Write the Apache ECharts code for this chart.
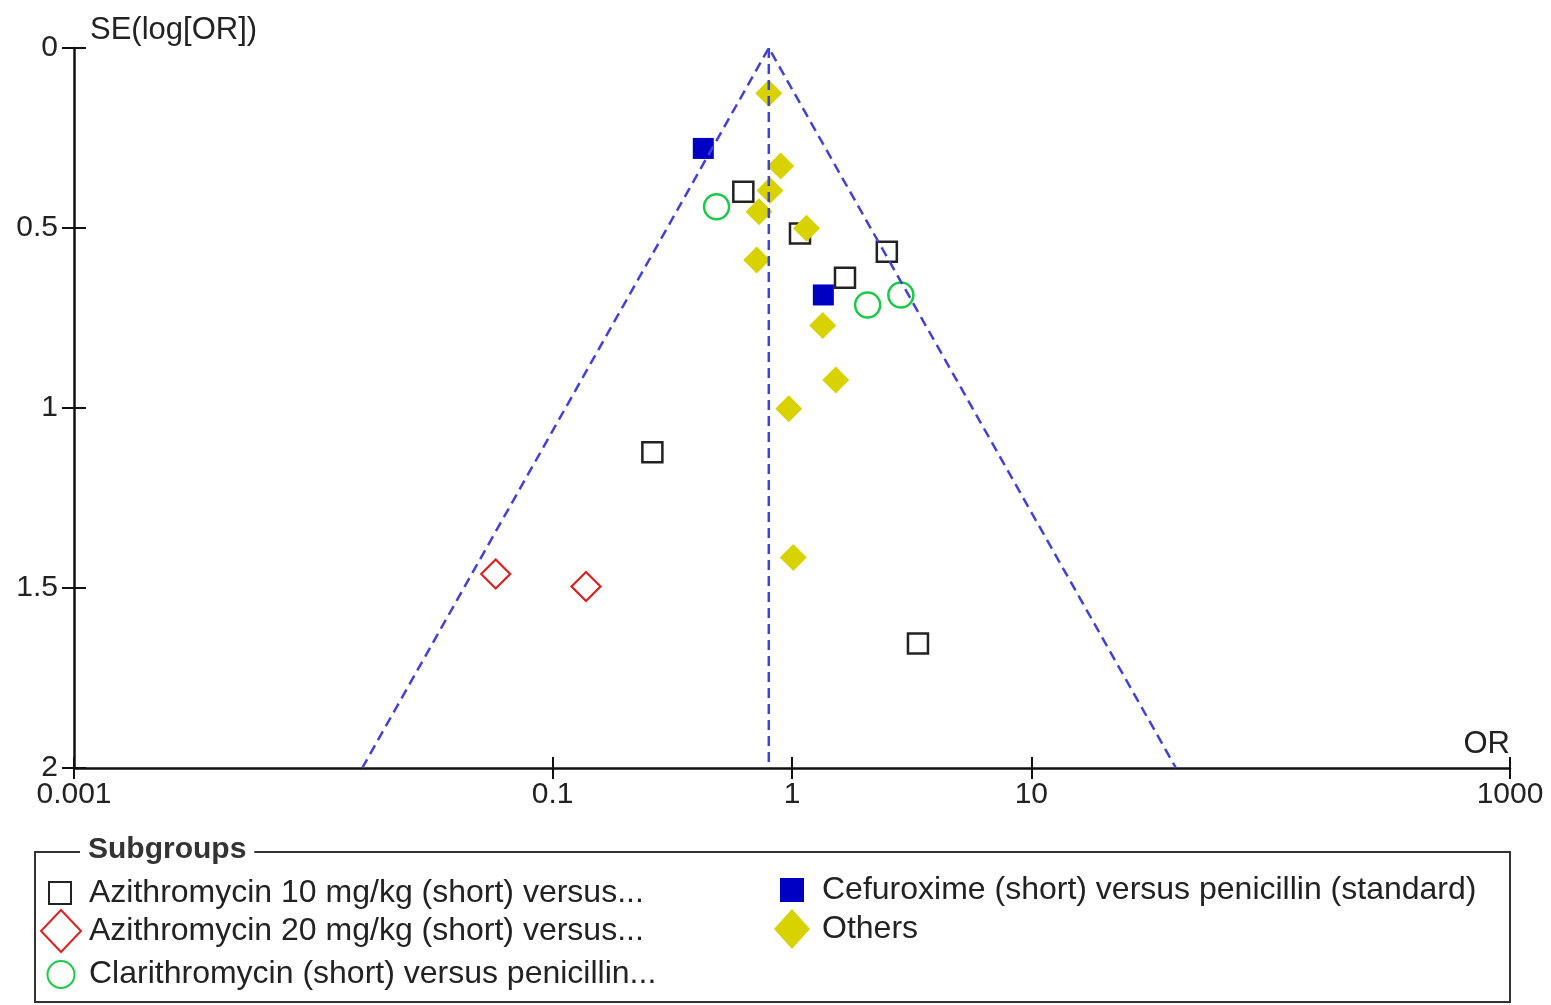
<!DOCTYPE html>
<html>
<head>
<meta charset="utf-8">
<script src="https://cdn.jsdelivr.net/npm/echarts@6/dist/echarts.min.js"></script>
<style>
html,body{margin:0;padding:0;background:#fff;}
#chart{width:1551px;height:1005px;}
</style>
</head>
<body>
<div id="chart"></div>
<script>
// ---- data ----
const xTickValues = [0.001, 0.1, 1, 10, 1000];
const xTickLabels = ['0.001', '0.1', '1', '10', '1000'];
const yTickValues = [0, 0.5, 1, 1.5, 2];
const yTickLabels = ['0', '0.5', '1', '1.5', '2'];

const seriesNames = [
  'Azithromycin 10 mg/kg (short) versus...',
  'Azithromycin 20 mg/kg (short) versus...',
  'Clarithromycin (short) versus penicillin...',
  'Cefuroxime (short) versus penicillin (standard)',
  'Others'
];

const az10OR = [0.626, 1.08, 2.49, 1.665, 0.261, 3.36];
const az10SE = [0.399, 0.515, 0.566, 0.638, 1.123, 1.654];
const az20OR = [0.0578, 0.1378];
const az20SE = [1.461, 1.496];
const clarOR = [0.484, 2.07, 2.85];
const clarSE = [0.441, 0.714, 0.686];
const cefOR = [0.426, 1.352];
const cefSE = [0.279, 0.686];
const othersOR = [0.80, 0.897, 0.809, 0.728, 1.15, 0.712, 1.344, 1.523, 0.969, 1.013];
const othersSE = [0.126, 0.328, 0.396, 0.455, 0.501, 0.589, 0.771, 0.922, 1.002, 1.415];

// funnel (pseudo 95% limits) and pooled estimate
const funnelOR = [0.016, 0.8, 40.2];
const funnelSE = [2, 0, 2];
const pooledOR = [0.8, 0.8];
const pooledSE = [0, 2];

// ---- helpers ----
const lg = v => Math.log10(v);
const pts = (ors, ses) => ors.map((o, i) => [lg(o), ses[i]]);
const FONT = '"Liberation Sans", Arial, sans-serif';
const TXT = '#222';
const xLabelFor = v => {
  const i = xTickValues.findIndex(t => Math.abs(lg(t) - v) < 1e-6);
  return i >= 0 ? xTickLabels[i] : '';
};
const yLabelFor = v => {
  const i = yTickValues.findIndex(t => Math.abs(t - v) < 1e-6);
  return i >= 0 ? yTickLabels[i] : '';
};
const xTicks = xTickValues.map(lg);

// legend layout: one legend component per entry (icon centre, icon size, text start)
const legendLayout = [
  {cx: 59, cy: 888, w: 22, h: 22, tx: 88},
  {cx: 60, cy: 930, w: 40, h: 42, tx: 88},
  {cx: 60, cy: 972, w: 27, h: 27, tx: 88},
  {cx: 792, cy: 886, w: 24, h: 24, tx: 822},
  {cx: 792, cy: 929, w: 36, h: 40, tx: 822}
];
const legends = legendLayout.map((L, i) => ({
  data: [seriesNames[i]],
  orient: 'vertical',
  left: L.cx - L.w / 2, top: L.cy - L.h / 2,
  itemWidth: L.w, itemHeight: L.h, padding: 0,
  selectedMode: false,
  textStyle: {fontSize: 32, color: TXT, fontFamily: FONT, lineHeight: 18,
              padding: [0, 0, 0, Math.max(0, L.tx - (L.cx + L.w / 2) - 5)]}
}));

const chart = echarts.init(document.getElementById('chart'), null, {renderer: 'canvas'});

const option = {
  animation: false,
  backgroundColor: '#ffffff',
  textStyle: {fontFamily: FONT},
  grid: {left: 74, right: 41, top: 48, bottom: 237, containLabel: false},
  xAxis: [
    {
      type: 'value', min: lg(xTickValues[0]), max: lg(xTickValues[xTickValues.length - 1]),
      position: 'bottom',
      name: 'OR', nameLocation: 'end', nameGap: 0,
      nameTextStyle: {fontSize: 31, color: TXT, fontFamily: FONT, align: 'right', verticalAlign: 'bottom', padding: [0, 0, 8, 0]},
      axisLine: {show: true, onZero: false, lineStyle: {color: '#111', width: 2.5}},
      axisTick: {show: true, customValues: xTicks, length: 11, lineStyle: {color: '#111', width: 2}},
      axisLabel: {show: true, customValues: xTicks, formatter: v => xLabelFor(v), fontSize: 30, color: TXT, fontFamily: FONT, margin: 12},
      splitLine: {show: false}
    },
    {
      type: 'value', min: lg(xTickValues[0]), max: lg(xTickValues[xTickValues.length - 1]),
      position: 'bottom',
      axisLine: {show: false, onZero: false},
      axisTick: {show: true, inside: true, customValues: xTicks, length: 11, lineStyle: {color: '#111', width: 2}},
      axisLabel: {show: false},
      splitLine: {show: false}
    }
  ],
  yAxis: [
    {
      type: 'value', inverse: true, position: 'left',
      min: yTickValues[0], max: yTickValues[yTickValues.length - 1], interval: 0.5,
      name: 'SE(log[OR])', nameLocation: 'start', nameGap: 2,
      nameTextStyle: {fontSize: 31, color: TXT, fontFamily: FONT, align: 'left', verticalAlign: 'bottom', padding: [0, 0, 0, 16]},
      axisLine: {show: true, onZero: false, lineStyle: {color: '#111', width: 2.5}},
      axisTick: {show: true, length: 12, lineStyle: {color: '#111', width: 2}},
      axisLabel: {show: true, formatter: v => yLabelFor(v), fontSize: 30, color: TXT, fontFamily: FONT, margin: 16},
      splitLine: {show: false}
    },
    {
      type: 'value', inverse: true, position: 'left',
      min: yTickValues[0], max: yTickValues[yTickValues.length - 1], interval: 0.5,
      axisLine: {show: false, onZero: false},
      axisTick: {show: true, inside: true, length: 12, lineStyle: {color: '#111', width: 2}},
      axisLabel: {show: false},
      splitLine: {show: false}
    }
  ],
  legend: legends,
  graphic: [
    {
      type: 'rect', silent: true, z: 0,
      shape: {x: 35, y: 852, width: 1475, height: 150},
      style: {fill: 'none', stroke: '#333', lineWidth: 2}
    },
    {
      type: 'text', silent: true, z: 1, left: 80, top: 835,
      style: {text: 'Subgroups', fontSize: 30, fontWeight: 'bold', fill: '#333', fontFamily: FONT,
              backgroundColor: '#fff', padding: [0, 8, 0, 8]}
    }
  ],
  series: [
    {
      name: seriesNames[0], type: 'scatter', data: pts(az10OR, az10SE),
      symbol: 'rect', symbolSize: 20, z: 3,
      itemStyle: {color: '#ffffff', borderColor: '#222', borderWidth: 2.5, opacity: 1}
    },
    {
      name: seriesNames[1], type: 'scatter', data: pts(az20OR, az20SE),
      symbol: 'diamond', symbolSize: 29, z: 3,
      itemStyle: {color: '#ffffff', borderColor: '#e02020', borderWidth: 2.2, opacity: 1}
    },
    {
      name: seriesNames[2], type: 'scatter', data: pts(clarOR, clarSE),
      symbol: 'circle', symbolSize: 25, z: 3,
      itemStyle: {color: 'rgba(255,255,255,0)', borderColor: '#1ec84a', borderWidth: 2.5, opacity: 1}
    },
    {
      name: seriesNames[3], type: 'scatter', data: pts(cefOR, cefSE),
      symbol: 'rect', symbolSize: 21, z: 4,
      itemStyle: {color: '#0000c4', opacity: 1}
    },
    {
      name: seriesNames[4], type: 'scatter', data: pts(othersOR, othersSE),
      symbol: 'diamond', symbolSize: 27, z: 5,
      itemStyle: {color: '#d8d300', opacity: 1}
    },
    {
      name: 'funnel', type: 'line', data: pts(funnelOR, funnelSE),
      symbol: 'none', silent: true, z: 6,
      lineStyle: {color: '#4141d8', width: 2.5, type: [10, 6]}
    },
    {
      name: 'pooled', type: 'line', data: pts(pooledOR, pooledSE),
      symbol: 'none', silent: true, z: 6,
      lineStyle: {color: '#4141d8', width: 2.5, type: [10, 6]}
    }
  ]
};
chart.setOption(option);
</script>
</body>
</html>
